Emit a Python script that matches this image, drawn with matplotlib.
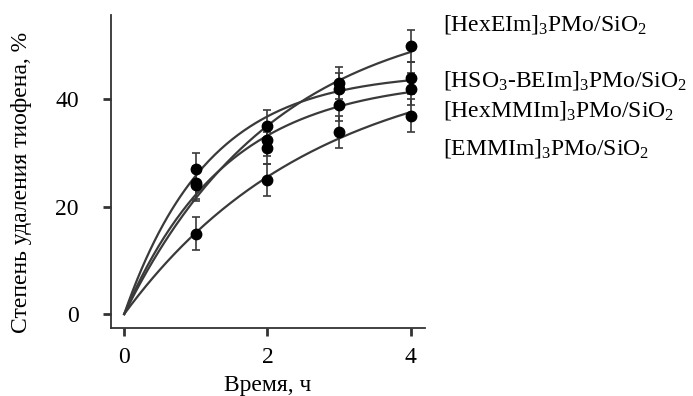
import numpy as np
import matplotlib
matplotlib.use("Agg")
import matplotlib.pyplot as plt

plt.rcParams['font.family'] = ['Liberation Serif', 'DejaVu Serif']
plt.rcParams['mathtext.fontset'] = 'custom'
plt.rcParams['mathtext.rm'] = 'Liberation Serif'
plt.rcParams['mathtext.it'] = 'Liberation Serif:italic'

# Data
time_h = [0, 1, 2, 3, 4]
hexeim = [0, 24.5, 32.4, 43, 50]
hso3 = [0, 27, 35, 42, 44]
hexmmim = [0, 24, 31, 39, 42]
emmim = [0, 15, 25, 34, 37]
err = [0, 3, 3, 3, 3]

labels = ['[HexEIm]$_3$PMo/SiO$_2$',
          '[HSO$_3$-BEIm]$_3$PMo/SiO$_2$',
          '[HexMMIm]$_3$PMo/SiO$_2$',
          '[EMMIm]$_3$PMo/SiO$_2$']
series = [hexeim, hso3, hexmmim, emmim]

fig = plt.figure(figsize=(6.93, 3.96), dpi=100)
ax = fig.add_axes([0.160, 0.1717, 0.453, 0.790])

def fit(x, y):
    x = np.asarray(x, float); y = np.asarray(y, float)
    best = None
    for k in np.linspace(0.02, 3, 3000):
        f = 1 - np.exp(-k * x)
        a = np.dot(f, y) / np.dot(f, f)
        r = np.sum((a * f - y) ** 2)
        if best is None or r < best[0]:
            best = (r, a, k)
    return best[1], best[2]

xs = np.linspace(0, 4, 200)
line_c = '#3a3a3a'
for ys in series:
    a, k = fit(time_h, ys)
    ax.plot(xs, a * (1 - np.exp(-k * xs)), color=line_c, lw=1.6, zorder=2)
    ax.errorbar(time_h[1:], ys[1:], yerr=err[1:], fmt='o', color='black',
                ms=7.5, ecolor=line_c, elinewidth=1.2, capsize=3, capthick=1.2, zorder=3)

ax.set_xlim(-0.186, 4.196)
ax.set_ylim(-2.6, 55.7)
ax.set_xticks([0, 2, 4])
ax.set_yticks([0, 20, 40])
for s in ['top', 'right']:
    ax.spines[s].set_visible(False)
for s in ['left', 'bottom']:
    ax.spines[s].set_linewidth(1.3)
    ax.spines[s].set_color('#333333')
ax.tick_params(axis='both', direction='out', length=6, width=2, color='#333333', labelsize=17)
ax.tick_params(axis='y', pad=17)
ax.tick_params(axis='x', pad=8)
ax.set_xlabel('Время, ч', fontsize=17, labelpad=5)
ax.set_ylabel('Степень удаления тиофена, %', fontsize=17)
ax.yaxis.set_label_coords(-0.25, 0.466)

label_y = [25, 80, 110, 148]
for lab, py in zip(labels, label_y):
    fig.text(443 / 693, 1 - py / 396, lab, fontsize=17, va='center', ha='left')

fig.savefig('out.png', dpi=100)
